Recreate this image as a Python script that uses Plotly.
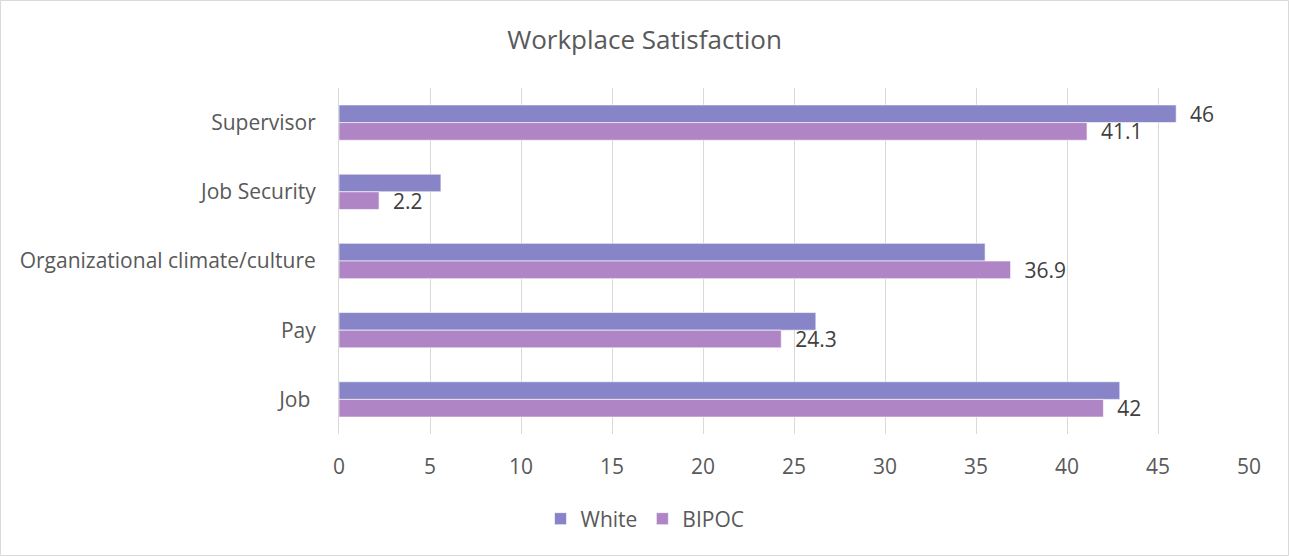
import plotly.graph_objects as go

categories = ["Supervisor", "Job Security", "Organizational climate/culture", "Pay", "Job\u00a0"]
white = [46, 5.6, 35.5, 26.2, 42.9]
bipoc = [41.1, 2.2, 36.9, 24.3, 42]
white_labels = ["46", "", "", "", ""]
bipoc_labels = ["41.1", "2.2", "36.9", "24.3", "42"]
x_ticks = [0, 5, 10, 15, 20, 25, 30, 35, 40, 45, 50]

W, H = 1289, 556
ML, MR, MT, MB = 339, 40, 88, 122
text_color = "#595959"
label_color = "#404040"
font_family = "'Open Sans', sans-serif"
fs = 21
pad = "\u00a0\u00a0"

fig = go.Figure()
fig.add_trace(go.Bar(
    name="White", y=categories, x=white, orientation="h",
    marker=dict(color="#8785C7", line=dict(color="#ffffff", width=0.6)),
    text=[pad + t if t else "" for t in white_labels],
    textposition="outside", cliponaxis=False, constraintext="none",
    textfont=dict(color=label_color, size=fs),
))
fig.add_trace(go.Bar(
    name="BIPOC", y=categories, x=bipoc, orientation="h",
    marker=dict(color="#AF85C5", line=dict(color="#ffffff", width=0.6)),
    text=[pad + t if t else "" for t in bipoc_labels],
    textposition="outside", cliponaxis=False, constraintext="none",
    textfont=dict(color=label_color, size=fs),
))

# light frame around the whole chart
pw, ph = W - ML - MR, H - MT - MB
fig.add_shape(
    type="rect", xref="paper", yref="paper",
    x0=(0.5 - ML) / pw, x1=(W - 0.5 - ML) / pw,
    y0=(-MB + 0.5) / ph, y1=(H - MB - 0.5) / ph,
    line=dict(color="#d9d9d9", width=1), layer="below",
)

fig.update_layout(
    width=W, height=H,
    margin=dict(l=ML, r=MR, t=MT, b=MB),
    paper_bgcolor="white", plot_bgcolor="white",
    barmode="group", bargap=0.49, bargroupgap=0,
    font=dict(family=font_family, color=text_color, size=fs),
    title=dict(text="Workplace Satisfaction", x=0.5, xref="container",
               y=1 - 40 / H, yref="container", yanchor="middle",
               font=dict(size=26, color=text_color)),
    xaxis=dict(range=[0, 50], tickvals=x_ticks, showgrid=True,
               gridcolor="#d9d9d9", gridwidth=1, zeroline=False,
               showline=False, ticks="", ticklabelstandoff=18,
               tickfont=dict(size=fs, color=text_color)),
    yaxis=dict(autorange="reversed", showgrid=False, showline=True,
               linecolor="#d9d9d9", linewidth=1, ticks="",
               ticklabelstandoff=18,
               tickfont=dict(size=fs, color=text_color)),
    legend=dict(orientation="h", x=(645 - ML) / pw, xanchor="center",
                y=-(519 - (H - MB)) / ph, yanchor="middle",
                font=dict(size=fs, color=text_color), itemwidth=30),
    showlegend=True,
)

fig.write_html("out.html")
